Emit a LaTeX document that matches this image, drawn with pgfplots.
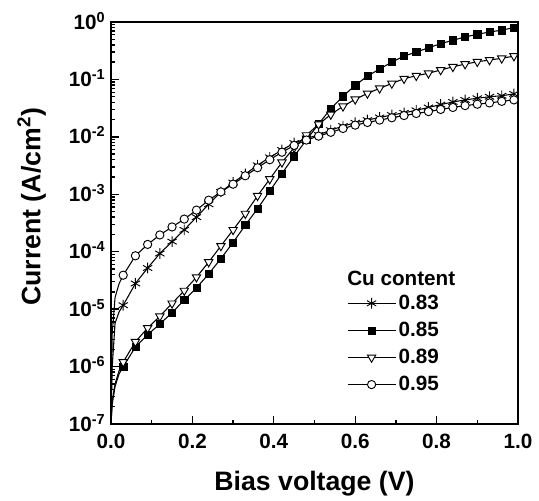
\documentclass[border=0pt]{standalone}
\usepackage{fontspec}
\setmainfont{Liberation Sans}
\usepackage{pgfplots}
\usepackage{pgfplotstable}
\pgfplotsset{compat=1.18}

% Cu content 0.83
\pgfplotstableread{
v i
0 1e-7
0.003 1.0e-6
0.01 5.7e-6
0.02 9.0e-6
0.03 1.17e-5
0.06 2.8e-5
0.09 5.2e-5
0.12 9.3e-5
0.15 1.5e-4
0.18 2.4e-4
0.21 4.0e-4
0.24 6.7e-4
0.27 1.1e-3
0.30 1.6e-3
0.33 2.25e-3
0.36 3.2e-3
0.39 4.4e-3
0.42 5.9e-3
0.45 7.8e-3
0.48 9.4e-3
0.51 1.08e-2
0.54 1.31e-2
0.57 1.54e-2
0.60 1.76e-2
0.63 1.96e-2
0.66 2.18e-2
0.69 2.4e-2
0.72 2.62e-2
0.75 2.9e-2
0.78 3.25e-2
0.81 3.65e-2
0.84 4.05e-2
0.87 4.4e-2
0.90 4.7e-2
0.93 5.0e-2
0.96 5.2e-2
0.99 5.6e-2
}\tA
% 0.85
\pgfplotstableread{
v i
0 1e-7
0.003 2.2e-7
0.01 4.5e-7
0.02 7.5e-7
0.03 9.9e-7
0.06 2.2e-6
0.09 3.6e-6
0.12 5.5e-6
0.15 8.7e-6
0.18 1.44e-5
0.21 2.35e-5
0.24 4.1e-5
0.27 7.6e-5
0.30 1.45e-4
0.33 2.9e-4
0.36 5.6e-4
0.39 1.14e-3
0.42 2.3e-3
0.45 4.6e-3
0.48 8.8e-3
0.51 1.67e-2
0.54 3.1e-2
0.57 5.1e-2
0.60 7.9e-2
0.63 0.114
0.66 0.152
0.69 0.20
0.72 0.255
0.75 0.30
0.78 0.355
0.81 0.42
0.84 0.48
0.87 0.55
0.90 0.61
0.93 0.67
0.96 0.72
0.99 0.80
}\tB
% 0.89
\pgfplotstableread{
v i
0 1e-7
0.003 2.5e-7
0.01 5.0e-7
0.02 8.5e-7
0.03 1.2e-6
0.06 2.7e-6
0.09 4.7e-6
0.12 7.5e-6
0.15 1.26e-5
0.18 2.1e-5
0.21 3.6e-5
0.24 6.6e-5
0.27 1.26e-4
0.30 2.4e-4
0.33 4.6e-4
0.36 9.4e-4
0.39 1.84e-3
0.42 3.6e-3
0.45 6.5e-3
0.48 1.07e-2
0.51 1.65e-2
0.54 2.45e-2
0.57 3.4e-2
0.60 4.5e-2
0.63 5.7e-2
0.66 7.0e-2
0.69 8.5e-2
0.72 0.103
0.75 0.116
0.78 0.128
0.81 0.146
0.84 0.166
0.87 0.185
0.90 0.203
0.93 0.218
0.96 0.233
0.99 0.255
}\tC
% 0.95
\pgfplotstableread{
v i
0 1e-7
0.003 3.8e-6
0.01 1.6e-5
0.02 2.8e-5
0.03 3.9e-5
0.06 8.5e-5
0.09 1.34e-4
0.12 1.96e-4
0.15 2.7e-4
0.18 3.7e-4
0.21 5.3e-4
0.24 7.9e-4
0.27 1.1e-3
0.30 1.5e-3
0.33 2.1e-3
0.36 2.9e-3
0.39 4.0e-3
0.42 5.4e-3
0.45 7.1e-3
0.48 8.8e-3
0.51 1.03e-2
0.54 1.2e-2
0.57 1.4e-2
0.60 1.6e-2
0.63 1.78e-2
0.66 1.96e-2
0.69 2.15e-2
0.72 2.35e-2
0.75 2.55e-2
0.78 2.75e-2
0.81 3.0e-2
0.84 3.25e-2
0.87 3.5e-2
0.90 3.7e-2
0.93 3.9e-2
0.96 4.15e-2
0.99 4.4e-2
}\tD

\begin{document}
\begin{tikzpicture}
\begin{axis}[
  scale only axis, width=305.25pt, height=301.5pt,
  ymode=log, xmin=0, xmax=1, ymin=1e-7, ymax=1,
  xtick={0,0.2,0.4,0.6,0.8,1.0},
  xticklabels={0.0,0.2,0.4,0.6,0.8,1.0},
  minor x tick num=1,
  ytick={1e-7,1e-6,1e-5,1e-4,1e-3,1e-2,1e-1,1},
  yticklabels={10\textsuperscript{-7},10\textsuperscript{-6},10\textsuperscript{-5},10\textsuperscript{-4},10\textsuperscript{-3},10\textsuperscript{-2},10\textsuperscript{-1},10\textsuperscript{0}},
  minor ytick={2e-7,3e-7,4e-7,5e-7,6e-7,7e-7,8e-7,9e-7,
    2e-6,3e-6,4e-6,5e-6,6e-6,7e-6,8e-6,9e-6,
    2e-5,3e-5,4e-5,5e-5,6e-5,7e-5,8e-5,9e-5,
    2e-4,3e-4,4e-4,5e-4,6e-4,7e-4,8e-4,9e-4,
    2e-3,3e-3,4e-3,5e-3,6e-3,7e-3,8e-3,9e-3,
    2e-2,3e-2,4e-2,5e-2,6e-2,7e-2,8e-2,9e-2,
    2e-1,3e-1,4e-1,5e-1,6e-1,7e-1,8e-1,9e-1},
  tick align=inside, xtick pos=bottom, ytick pos=left,
  major tick length=6pt, minor tick length=3pt,
  axis line style={line width=1.5pt},
  every tick/.style={black, line width=1pt},
  ticklabel style={font=\fontsize{15.5}{18}\selectfont\bfseries, inner ysep=0.5pt},
  yticklabel style={inner xsep=4pt, yshift=1pt},
  xticklabel style={yshift=-6.5pt},
  xlabel={Bias voltage (V)},
  ylabel={Current (A/cm\textsuperscript{2})},
  label style={font=\fontsize{20}{24}\selectfont\bfseries},
  xlabel style={at={(axis description cs:0.5,0)}, anchor=center, yshift=-45pt},
  ylabel style={at={(axis description cs:-0.195,0.54)}, anchor=center},
  legend style={at={(rel axis cs:0.58,0.328)}, anchor=north west, draw=none, fill=none,
    font=\fontsize{15.5}{18}\selectfont\bfseries, row sep=4pt, inner sep=0pt},
  legend cell align=left,
  legend image code/.code={\draw[mark=none,solid] (0pt,0pt) -- (36pt,0pt); \draw plot coordinates {(18pt,0pt)};},
  clip=false,
]
\addplot[black, line width=0.8pt, forget plot] table {\tA};
\addplot[black, line width=0.8pt, forget plot] table {\tB};
\addplot[black, line width=0.8pt, forget plot] table {\tC};
\addplot[black, line width=0.8pt, forget plot] table {\tD};
\addplot[only marks, black, mark=asterisk, mark size=4pt, mark options={line width=0.7pt}, skip coords between index={0}{4}] table {\tA};
\addlegendentry{0.83}
\addplot[only marks, black, mark=square*, mark size=2.7pt, skip coords between index={0}{4}] table {\tB};
\addlegendentry{0.85}
\addplot[only marks, black, mark=triangle*, mark size=3.6pt, mark options={rotate=180, fill=white, line width=0.7pt}, skip coords between index={0}{4}] table {\tC};
\addlegendentry{0.89}
\addplot[only marks, black, mark=*, mark size=3.1pt, mark options={fill=white, line width=0.7pt}, skip coords between index={0}{4}] table {\tD};
\addlegendentry{0.95}
\node[anchor=west, font=\fontsize{15.5}{18}\selectfont\bfseries, inner sep=0pt] at (rel axis cs:0.58,0.363) {Cu content};
\end{axis}
\pgfresetboundingbox
\path ([shift={(-83.25pt,-57pt)}]current axis.south west) rectangle ([shift={(15.75pt,16.5pt)}]current axis.north east);
\end{tikzpicture}
\end{document}
